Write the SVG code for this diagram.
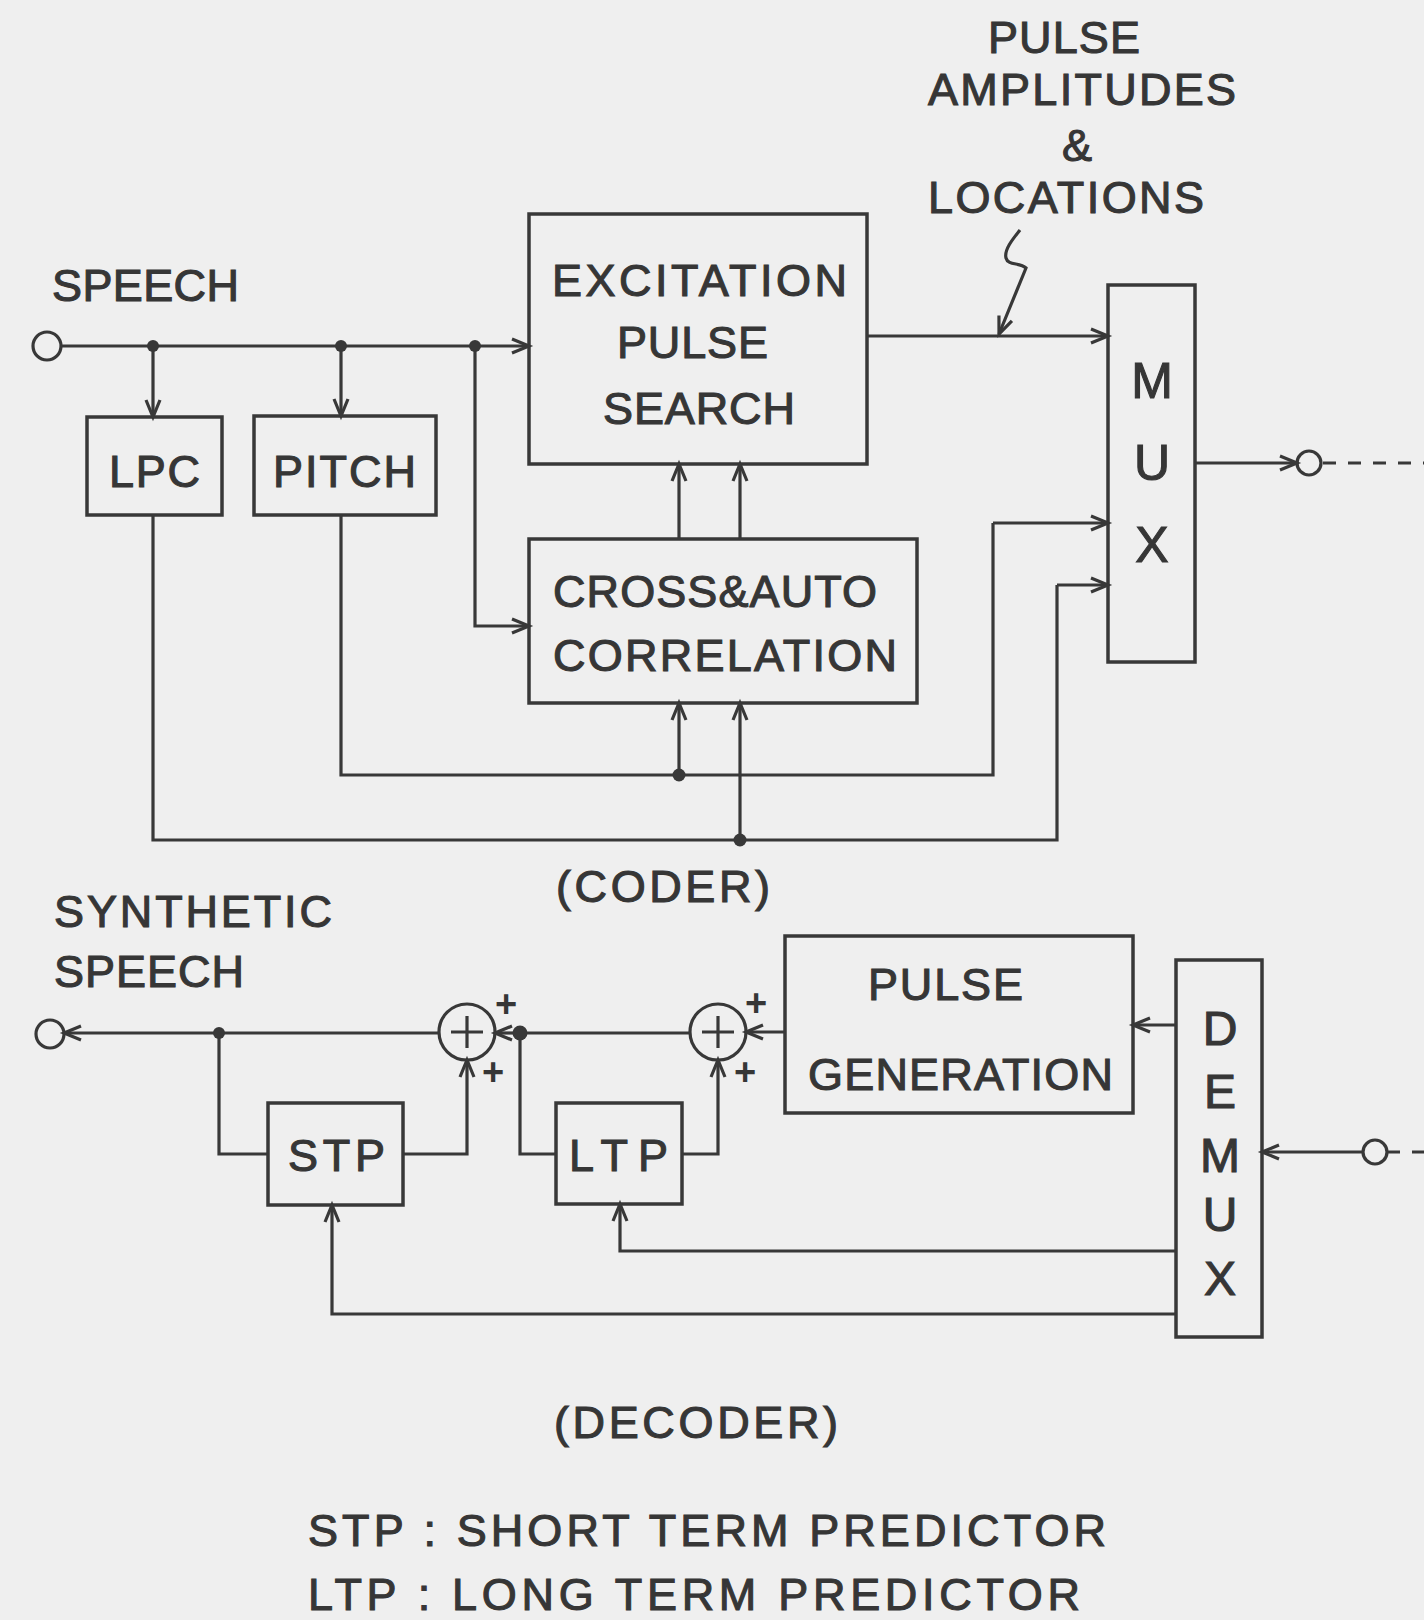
<svg xmlns="http://www.w3.org/2000/svg" width="1424" height="1620" viewBox="0 0 1424 1620">
<defs>
<style>
.bx{fill:none;stroke:#383838;stroke-width:3.5}
.ln{fill:none;stroke:#383838;stroke-width:3.2}
.arr{marker-end:url(#ah)}
.dash{fill:none;stroke:#383838;stroke-width:3;stroke-dasharray:13 12}
.t{font-family:"Liberation Sans",Arial,sans-serif;font-size:45px;fill:#363636;stroke:#363636;stroke-width:1.1}
.big{font-family:"Liberation Sans",Arial,sans-serif;font-size:50px;fill:#363636;stroke:#363636;stroke-width:1.1;text-anchor:middle}
.pl{font-family:"Liberation Sans",Arial,sans-serif;font-size:38px;font-weight:bold;fill:#363636;text-anchor:middle}
.dot{fill:#383838}
.term{fill:none;stroke:#383838;stroke-width:3.2}
</style>
<marker id="ah" markerUnits="userSpaceOnUse" markerWidth="24" markerHeight="24" viewBox="-18 -12 24 24" refX="0" refY="0" orient="auto" overflow="visible">
<path d="M-17,-7 L0,0 L-17,7" fill="none" stroke="#383838" stroke-width="3.2"/>
</marker>
</defs>
<rect width="1424" height="1620" fill="#efefef"/>

<!-- labels -->
<g id="labels">
<text class="t" x="988" y="53" textLength="152" lengthAdjust="spacing">PULSE</text>
<text class="t" x="928" y="105" textLength="308" lengthAdjust="spacing">AMPLITUDES</text>
<text class="t" x="1062" y="161">&amp;</text>
<text class="t" x="928" y="213" textLength="276" lengthAdjust="spacing">LOCATIONS</text>
<text class="t" x="52" y="301" textLength="187" lengthAdjust="spacing">SPEECH</text>
<text class="t" x="556" y="902" textLength="214" lengthAdjust="spacing">(CODER)</text>
<text class="t" x="54" y="927" textLength="278" lengthAdjust="spacing">SYNTHETIC</text>
<text class="t" x="54" y="987" textLength="190" lengthAdjust="spacing">SPEECH</text>
<text class="t" x="554" y="1438" textLength="284" lengthAdjust="spacing">(DECODER)</text>
<text class="t" x="308" y="1546" textLength="798" lengthAdjust="spacing">STP : SHORT TERM PREDICTOR</text>
<text class="t" x="308" y="1610" textLength="772" lengthAdjust="spacing">LTP : LONG TERM PREDICTOR</text>
</g>

<!-- coder nodes -->
<g id="speech-in"><circle class="term" cx="47" cy="346" r="14"/></g>
<g id="lpc"><rect class="bx" x="87" y="417" width="135" height="98"/>
<text class="t" x="109" y="487" textLength="91" lengthAdjust="spacing">LPC</text></g>
<g id="pitch"><rect class="bx" x="254" y="416" width="182" height="99"/>
<text class="t" x="273" y="487" textLength="143" lengthAdjust="spacing">PITCH</text></g>
<g id="excitation"><rect class="bx" x="529" y="214" width="338" height="250"/>
<text class="t" x="552" y="296" textLength="295" lengthAdjust="spacing">EXCITATION</text>
<text class="t" x="617" y="358" textLength="151" lengthAdjust="spacing">PULSE</text>
<text class="t" x="603" y="424" textLength="192" lengthAdjust="spacing">SEARCH</text></g>
<g id="crosscorr"><rect class="bx" x="529" y="539" width="388" height="164"/>
<text class="t" x="553" y="607" textLength="324" lengthAdjust="spacing">CROSS&amp;AUTO</text>
<text class="t" x="553" y="671" textLength="344" lengthAdjust="spacing">CORRELATION</text></g>
<g id="mux"><rect class="bx" x="1108" y="285" width="87" height="377"/>
<text class="big" x="1152" y="398">M</text>
<text class="big" x="1152" y="480">U</text>
<text class="big" x="1152" y="562">X</text></g>
<g id="mux-out"><circle class="term" cx="1309" cy="463" r="12"/></g>

<!-- decoder nodes -->
<g id="speech-out"><circle class="term" cx="50" cy="1034" r="14"/></g>
<g id="sum1"><circle class="term" cx="467" cy="1032" r="28"/>
<path class="ln" d="M451,1032 H483 M467,1016 V1048" stroke-width="4"/>
<text class="pl" x="506" y="1017">+</text>
<text class="pl" x="493" y="1085">+</text></g>
<g id="sum2"><circle class="term" cx="718" cy="1032" r="28"/>
<path class="ln" d="M702,1032 H734 M718,1016 V1048" stroke-width="4"/>
<text class="pl" x="756" y="1016">+</text>
<text class="pl" x="745" y="1085">+</text></g>
<g id="stp"><rect class="bx" x="268" y="1103" width="135" height="102"/>
<text class="t" x="288" y="1171" textLength="97" lengthAdjust="spacing">STP</text></g>
<g id="ltp"><rect class="bx" x="556" y="1103" width="126" height="101"/>
<text class="t" x="569" y="1171" textLength="99" lengthAdjust="spacing">LTP</text></g>
<g id="pulsegen"><rect class="bx" x="785" y="936" width="348" height="177"/>
<text class="t" x="868" y="1000" textLength="155" lengthAdjust="spacing">PULSE</text>
<text class="t" x="808" y="1090" textLength="305" lengthAdjust="spacing">GENERATION</text></g>
<g id="demux"><rect class="bx" x="1176" y="960" width="86" height="377"/>
<text class="big" x="1220" y="1045" style="font-size:48px">D</text>
<text class="big" x="1220" y="1108" style="font-size:48px">E</text>
<text class="big" x="1220" y="1172" style="font-size:48px">M</text>
<text class="big" x="1220" y="1231" style="font-size:48px">U</text>
<text class="big" x="1220" y="1295" style="font-size:48px">X</text></g>
<g id="demux-in"><circle class="term" cx="1375" cy="1152" r="12"/></g>

<!-- connectors -->
<g id="connectors">
<path class="ln arr" d="M61,346 H529"/>
<path class="ln arr" d="M153,346 V417"/>
<path class="ln arr" d="M341,346 V416"/>
<path class="ln arr" d="M475,346 V626 H529"/>
<path class="ln arr" d="M679,539 V464"/>
<path class="ln arr" d="M740,539 V464"/>
<path class="ln" d="M341,515 V775 H993 V523"/>
<path class="ln arr" d="M993,523 H1108"/>
<path class="ln arr" d="M679,775 V703"/>
<path class="ln" d="M153,515 V840 H1057 V585"/>
<path class="ln arr" d="M1057,585 H1108"/>
<path class="ln arr" d="M740,840 V703"/>
<path class="ln arr" d="M867,336 H1108"/>
<path class="ln arr" d="M1020,230 C1012,240 1004,250 1006,258 C1008,266 1020,262 1026,268 L999,334"/>
<path class="ln arr" d="M1195,463 H1297"/>
<path class="dash" d="M1323,463 H1424"/>
<circle class="dot" cx="153" cy="346" r="6"/>
<circle class="dot" cx="341" cy="346" r="6"/>
<circle class="dot" cx="475" cy="346" r="6"/>
<circle class="dot" cx="679" cy="775" r="6.5"/>
<circle class="dot" cx="740" cy="840" r="6.5"/>

<path class="ln arr" d="M439,1033 H64"/>
<path class="ln" d="M219,1033 V1154 H268"/>
<path class="ln arr" d="M403,1154 H467 V1060"/>
<path class="ln arr" d="M520,1033 H495"/>
<path class="ln" d="M520,1033 H690"/>
<path class="ln" d="M520,1033 V1154 H556"/>
<path class="ln arr" d="M682,1154 H718 V1060"/>
<path class="ln arr" d="M785,1032 H746"/>
<path class="ln arr" d="M1176,1025 H1133"/>
<path class="ln arr" d="M1363,1152 H1262"/>
<path class="dash" d="M1387,1152 H1424"/>
<path class="ln arr" d="M1176,1251 H620 V1204"/>
<path class="ln arr" d="M1176,1314 H332 V1205"/>
<circle class="dot" cx="219" cy="1033" r="6"/>
<circle class="dot" cx="520" cy="1033" r="7.5"/>
</g>
</svg>
